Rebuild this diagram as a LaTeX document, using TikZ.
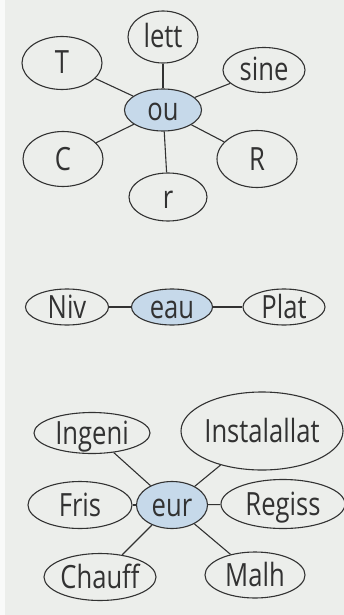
\documentclass[tikz,border=0pt]{standalone}
\usepackage{fontspec}
\setmainfont{Open Sans}[FakeStretch=0.8]
\usetikzlibrary{shapes.geometric}
\definecolor{paper}{RGB}{236,238,235}
\definecolor{ink}{RGB}{50,50,50}
\definecolor{hub}{RGB}{198,217,234}
\tikzset{
  bub/.style 2 args={ellipse, draw=ink, line width=1.1pt, fill=paper, inner sep=0pt,
    minimum width=#1pt, minimum height=#2pt},
  hubbub/.style 2 args={bub={#1}{#2}, fill=hub},
  txt/.style={inner sep=0pt, text height=22pt, text depth=0pt, text=ink,
    font=\fontsize{32}{36}\selectfont},
  link/.style={draw=ink, line width=1.1pt}
}
\begin{document}
\begin{tikzpicture}[x=1pt,y=-1pt]
\fill[paper] (0,0) rectangle (344,615);
\fill[white!70!paper] (0,0) rectangle (5,615);
\useasboundingbox (0,0) rectangle (344,615);
% top cluster
\node[hubbub={77}{42}] (ou) at (163,110) {};
\node[bub={70}{52}] (lett) at (163,37) {};
\node[bub={80}{53}] (T) at (62,63) {};
\node[bub={82}{45}] (sine) at (264,70) {};
\node[bub={80}{55}] (C) at (63,159) {};
\node[bub={80}{57}] (R) at (257,159) {};
\node[bub={78}{48}] (r) at (168,197) {};
\foreach \n in {lett,T,sine,C,R,r} \draw[link] (ou) -- (\n);
\node[txt] (ou-t) at (ou) {ou};
\node[txt] (lett-t) at (lett) {lett};
\node[txt] (T-t) at (T) {T};
\node[txt] (sine-t) at (sine) {sine};
\node[txt] (C-t) at (C) {C};
\node[txt] (R-t) at (R) {R};
\node[txt] (r-t) at (r) {r};
% middle
\node[hubbub={81}{36}] (eau) at (172,307) {};
\node[bub={83}{36}] (Niv) at (67,307) {};
\node[bub={82}{36}] (Plat) at (284,307) {};
\draw[link] (Niv) -- (eau);
\draw[link] (eau) -- (Plat);
\node[txt] (eau-t) at (eau) {eau};
\node[txt] (Niv-t) at (Niv) {Niv};
\node[txt] (Plat-t) at (Plat) {Plat};
% bottom cluster
\node[hubbub={71}{47}] (eur) at (172,505) {};
\node[bub={116}{41}] (Ingeni) at (92,433) {};
\node[bub={162}{78}] (Inst) at (262,431) {};
\node[bub={104}{47}] (Fris) at (80,505) {};
\node[bub={124}{49}] (Regiss) at (283,504) {};
\node[bub={112}{47}] (Chauff) at (100,577) {};
\node[bub={100}{46}] (Malh) at (255,575) {};
\foreach \n in {Ingeni,Inst,Fris,Regiss,Chauff,Malh} \draw[link] (eur) -- (\n);
\node[txt] (eur-t) at (eur) {eur};
\node[txt] (Ingeni-t) at (Ingeni) {Ingeni};
\node[txt] (Inst-t) at (Inst) {Instalallat};
\node[txt] (Fris-t) at (Fris) {Fris};
\node[txt] (Regiss-t) at (Regiss) {Regiss};
\node[txt] (Chauff-t) at (Chauff) {Chauff};
\node[txt] (Malh-t) at (Malh) {Malh};
\end{tikzpicture}
\end{document}
